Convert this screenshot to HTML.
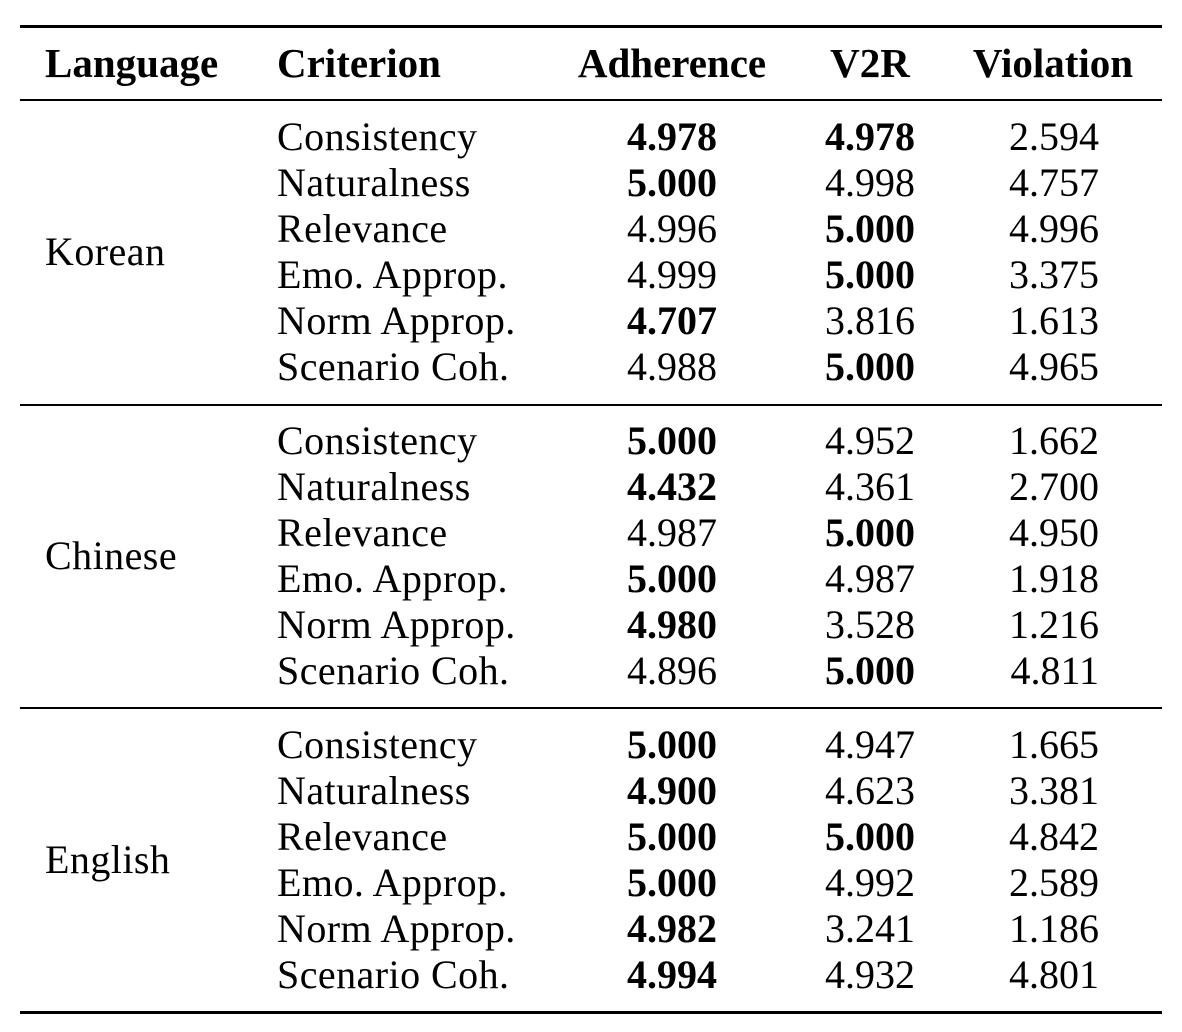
<!DOCTYPE html>
<html><head><meta charset="utf-8"><style>
body{margin:0;background:#fff;width:1182px;height:1032px;position:relative;overflow:hidden;font-family:"Liberation Serif",serif;font-size:40px;color:#000}
.r{position:absolute;left:20px;width:1142px;background:#000}
.t{position:absolute;line-height:46px;height:46px;white-space:nowrap}
.b{font-weight:bold}
.h{font-size:41px}
.w{letter-spacing:0.45px}
</style></head><body>
<div class="r" style="top:25px;height:3px"></div>
<div class="r" style="top:99px;height:2px"></div>
<div class="r" style="top:404px;height:2px"></div>
<div class="r" style="top:707px;height:2px"></div>
<div class="r" style="top:1011px;height:3px"></div>
<div id="c"></div>
<script>
var h='';
function t(x,y,s,cls,align){var st;
 if(align=='r')st='right:'+(1182-x)+'px';else if(align=='c')st='left:'+(x-150)+'px;width:300px;text-align:center';else st='left:'+x+'px';
 h+='<div class="t '+(cls||'')+'" style="top:'+(y-23)+'px;'+st+'">'+s+'</div>';}
t(45,63,'Language','b h');t(277,63,'Criterion','b h');t(672,63,'Adherence','b h','c');t(870,63,'V2R','b h','c');t(1053,63,'Violation','b h','c');
var crit=['Consistency','Naturalness','Relevance','Emo. Approp.','Norm Approp.','Scenario Coh.'];
var data=[['Korean',137,[['*4.978','*4.978','2.594'],['*5.000','4.998','4.757'],['4.996','*5.000','4.996'],['4.999','*5.000','3.375'],['*4.707','3.816','1.613'],['4.988','*5.000','4.965']]],
['Chinese',441,[['*5.000','4.952','1.662'],['*4.432','4.361','2.700'],['4.987','*5.000','4.950'],['*5.000','4.987','1.918'],['*4.980','3.528','1.216'],['4.896','*5.000','4.811']]],
['English',745,[['*5.000','4.947','1.665'],['*4.900','4.623','3.381'],['*5.000','*5.000','4.842'],['*5.000','4.992','2.589'],['*4.982','3.241','1.186'],['*4.994','4.932','4.801']]]];
var xs=[717,915,1099];
data.forEach(function(g){t(45,g[1]+115,g[0],'w');
 for(var i=0;i<6;i++){var y=g[1]+i*46;t(277,y,crit[i],'w');
  for(var j=0;j<3;j++){var v=g[2][i][j],b=v[0]=='*';t(xs[j],y,b?v.slice(1):v,b?'b':'','r');}}});
document.getElementById('c').innerHTML=h;
</script>
</body></html>
